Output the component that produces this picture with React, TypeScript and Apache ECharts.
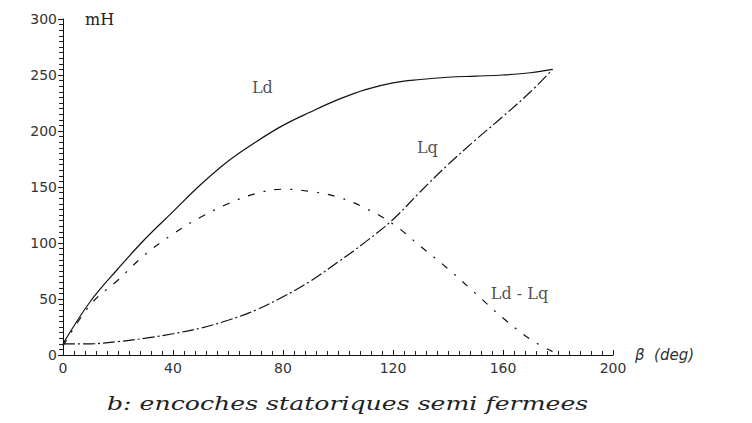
import React, { useEffect, useRef } from "react";
import * as echarts from "echarts";

// Rotor angle β (deg) and inductances (mH)
const beta = [0, 10, 20, 30, 40, 50, 60, 70, 80, 90, 100, 110, 120, 130, 140, 150, 160, 170, 178];
const ld = [10, 48, 77, 104, 128, 152, 173, 190, 205, 217, 228, 237, 243, 246, 248, 249, 250, 252, 255];
const lq = [10, 10, 12, 15, 19, 24, 31, 40, 52, 66, 83, 101, 121, 146, 170, 192, 213, 235, 255];
const ldMinusLq = [8, 45, 67, 90, 108, 123, 135, 144, 148, 146, 141, 131, 117, 97, 77, 55, 33, 14, 3];

// Curve annotations: [name, β, mH]
const curveLabels: [string, number, number][] = [
  ["Ld", 72.5, 239],
  ["Lq", 132.5, 185],
  ["Ld - Lq", 166, 55],
];

const xTicks = [0, 40, 80, 120, 160, 200];
const yTicks = [0, 50, 100, 150, 200, 250, 300];

const caption = "b: encoches statoriques semi fermees";

const pairs = (ys: number[]) => beta.map((b, i) => [b, ys[i]]);

export default function App() {
  const ref = useRef<HTMLDivElement>(null);

  useEffect(() => {
    if (!ref.current) return;
    const chart = echarts.init(ref.current, null, { renderer: "svg" });
    const axisFont = { fontFamily: "DejaVu Sans", fontSize: 14, color: "#333" };
    chart.setOption({
      animation: false,
      backgroundColor: "#ffffff",
      grid: { left: 63, right: 139, top: 19, bottom: 68, containLabel: false },
      xAxis: {
        type: "value",
        min: 0,
        max: 200,
        interval: 40,
        name: "β  (deg)",
        nameLocation: "end",
        nameGap: 22,
        nameTextStyle: { fontFamily: "DejaVu Sans", fontSize: 15, color: "#333", fontStyle: "italic", padding: [0, 0, 6, 0] },
        axisLine: { onZero: false, lineStyle: { color: "#111", width: 1 } },
        axisTick: { inside: true, length: 5, lineStyle: { color: "#111" } },
        minorTick: { show: true, splitNumber: 10, length: 4, lineStyle: { color: "#222", width: 1 } },
        splitLine: { show: false },
        minorSplitLine: { show: false },
        axisLabel: {
          ...axisFont,
          margin: 6,
          formatter: (v: number) => (xTicks.includes(v) ? String(v) : ""),
        },
      },
      yAxis: {
        type: "value",
        min: 0,
        max: 300,
        interval: 50,
        name: "mH",
        nameLocation: "end",
        nameGap: -8,
        nameTextStyle: { fontFamily: "DejaVu Serif", fontSize: 16, color: "#222", align: "left", padding: [0, 0, 0, 22] },
        axisLine: { lineStyle: { color: "#111", width: 1 } },
        axisTick: { inside: false, length: 5, lineStyle: { color: "#111" } },
        minorTick: { show: true, splitNumber: 10, length: 4, lineStyle: { color: "#222", width: 1 } },
        splitLine: { show: false },
        minorSplitLine: { show: false },
        axisLabel: {
          ...axisFont,
          margin: 6,
          formatter: (v: number) => (yTicks.includes(v) ? String(v) : ""),
        },
      },
      series: [
        {
          name: "Ld",
          type: "line",
          data: pairs(ld),
          smooth: 0.4,
          symbol: "none",
          lineStyle: { color: "#111", width: 1.2 },
        },
        {
          name: "Lq",
          type: "line",
          data: pairs(lq),
          smooth: 0.4,
          symbol: "none",
          lineStyle: { color: "#111", width: 1.2, type: [12, 3, 2, 3] },
        },
        {
          name: "Ld - Lq",
          type: "line",
          data: pairs(ldMinusLq),
          smooth: 0.4,
          symbol: "none",
          lineStyle: { color: "#111", width: 1.2, type: [7, 9, 2, 9] },
        },
        {
          name: "labels",
          type: "scatter",
          symbolSize: 0,
          data: curveLabels.map(([n, x, y]) => ({ name: n, value: [x, y] })),
          label: {
            show: true,
            position: "inside",
            formatter: (p: any) => p.name,
            fontFamily: "DejaVu Serif",
            fontSize: 16,
            color: "#222",
            backgroundColor: "#fff",
          },
        },
      ],
      graphic: [
        {
          type: "text",
          x: 107,
          y: 395,
          scaleX: 1.4,
          style: {
            text: caption,
            fontFamily: "DejaVu Serif",
            fontStyle: "italic",
            fontSize: 18,
            fill: "#222",
          },
        },
      ],
    });
    return () => chart.dispose();
  }, []);

  return (
    <div
      ref={ref}
      style={{ position: "fixed", left: 0, top: 0, width: 752, height: 423, background: "#fff" }}
    />
  );
}
